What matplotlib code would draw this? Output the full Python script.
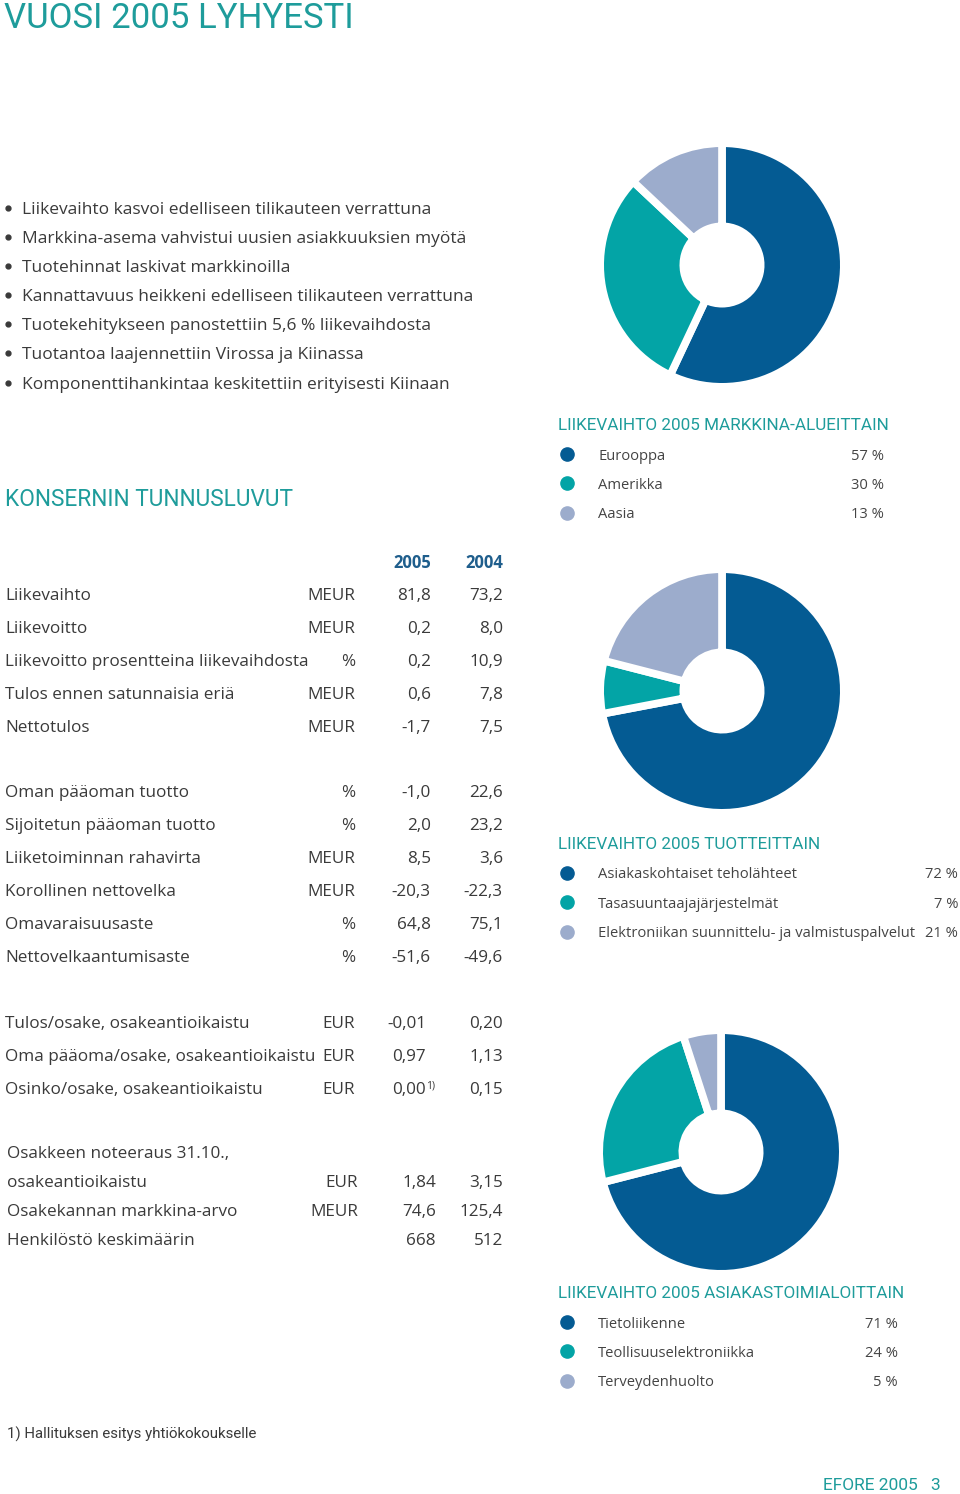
import matplotlib
matplotlib.use("Agg")
import matplotlib.pyplot as plt

plt.rcParams['font.family'] = ['Open Sans', 'DejaVu Sans']

# ---------------- data ----------------
title = "VUOSI 2005 LYHYESTI"
bullets = [
    "Liikevaihto kasvoi edelliseen tilikauteen verrattuna",
    "Markkina-asema vahvistui uusien asiakkuuksien myötä",
    "Tuotehinnat laskivat markkinoilla",
    "Kannattavuus heikkeni edelliseen tilikauteen verrattuna",
    "Tuotekehitykseen panostettiin 5,6 % liikevaihdosta",
    "Tuotantoa laajennettiin Virossa ja Kiinassa",
    "Komponenttihankintaa keskitettiin erityisesti Kiinaan",
]
table_title = "KONSERNIN TUNNUSLUVUT"
years = ["2005", "2004"]

group1_labels = ["Liikevaihto", "Liikevoitto", "Liikevoitto prosentteina liikevaihdosta",
                 "Tulos ennen satunnaisia eriä", "Nettotulos"]
group1_units = ["MEUR", "MEUR", "%", "MEUR", "MEUR"]
group1_2005 = ["81,8", "0,2", "0,2", "0,6", "-1,7"]
group1_2004 = ["73,2", "8,0", "10,9", "7,8", "7,5"]

group2_labels = ["Oman pääoman tuotto", "Sijoitetun pääoman tuotto", "Liiketoiminnan rahavirta",
                 "Korollinen nettovelka", "Omavaraisuusaste", "Nettovelkaantumisaste"]
group2_units = ["%", "%", "MEUR", "MEUR", "%", "%"]
group2_2005 = ["-1,0", "2,0", "8,5", "-20,3", "64,8", "-51,6"]
group2_2004 = ["22,6", "23,2", "3,6", "-22,3", "75,1", "-49,6"]

group3_labels = ["Tulos/osake, osakeantioikaistu", "Oma pääoma/osake, osakeantioikaistu",
                 "Osinko/osake, osakeantioikaistu"]
group3_units = ["EUR", "EUR", "EUR"]
group3_2005 = ["-0,01", "0,97", "0,00"]
group3_2004 = ["0,20", "1,13", "0,15"]

group4_labels = ["osakeantioikaistu", "Osakekannan markkina-arvo", "Henkilöstö keskimäärin"]
group4_units = ["EUR", "MEUR", ""]
group4_2005 = ["1,84", "74,6", "668"]
group4_2004 = ["3,15", "125,4", "512"]

market_title = "LIIKEVAIHTO 2005 MARKKINA-ALUEITTAIN"
market_names = ["Eurooppa", "Amerikka", "Aasia"]
market_values = [57, 30, 13]

product_title = "LIIKEVAIHTO 2005 TUOTTEITTAIN"
product_names = ["Asiakaskohtaiset teholähteet", "Tasasuuntaajajärjestelmät",
                 "Elektroniikan suunnittelu- ja valmistuspalvelut"]
product_values = [72, 7, 21]

customer_title = "LIIKEVAIHTO 2005 ASIAKASTOIMIALOITTAIN"
customer_names = ["Tietoliikenne", "Teollisuuselektroniikka", "Terveydenhuolto"]
customer_values = [71, 24, 5]

footnote = "1) Hallituksen esitys yhtiökokoukselle"
footer = "EFORE 2005"
page_no = "3"

# ---------------- style ----------------
W, H = 960, 1494
DARK = "#045b93"
TEAL = "#03a4a6"
LIGHT = "#9caccc"
TITLE_C = "#1e9c9b"
TXT = "#3a3a3a"
colors = [DARK, TEAL, LIGHT]

fig = plt.figure(figsize=(W / 100, H / 100), dpi=100)
ax = fig.add_axes([0, 0, 1, 1])
ax.set_xlim(0, W)
ax.set_ylim(H, 0)
ax.axis("off")

def t(x, y, s, size=11.5, color=TXT, ha="left", weight="normal", family=None, **kw):
    if family is not None:
        kw["family"] = family
    ax.text(x, y, s, fontsize=size, color=color, ha=ha, va="center_baseline",
            fontweight=weight, **kw)

ROB = ['Roboto', 'DejaVu Sans']
BODY = 12.3

# title
t(4, 15, title, size=25, color=TITLE_C, family=ROB)

# bullets
by = [208, 237, 266, 295, 324, 353, 383]
for y, b in zip(by, bullets):
    ax.plot(8, y, "o", color=TXT, ms=3.5)
    t(22, y, b, size=12.5)

t(5, 497, table_title, size=16.3, color=TITLE_C, family=ROB)

# table headers
t(431, 561, years[0], size=12, color="#1f5e8c", ha="right", weight="bold")
t(503, 561, years[1], size=12, color="#1f5e8c", ha="right", weight="bold")

def rows(ys, labels, units, v5, v4, xl=5, xu=355, x5=431, x4=503):
    for y, l, u, a, b in zip(ys, labels, units, v5, v4):
        t(xl, y, l, size=BODY)
        t(xu, y, u, size=BODY, ha="right")
        t(x5, y, a, size=BODY, ha="right")
        t(x4, y, b, size=BODY, ha="right")

rows([594, 627, 660, 693, 726], group1_labels, group1_units, group1_2005, group1_2004)
rows([791, 824, 857, 890, 923, 956], group2_labels, group2_units, group2_2005, group2_2004)
rows([1022, 1055, 1088], group3_labels, group3_units, group3_2005, group3_2004, x5=426)
t(426, 1084, "1)", size=7.5)
t(7, 1152, "Osakkeen noteeraus 31.10.,", size=BODY)
rows([1181, 1210, 1239], group4_labels, group4_units, group4_2005, group4_2004,
     xl=7, xu=358, x5=436)

# legends
def legend(y0, ttl, names, vals, xp):
    t(558, y0, ttl, size=12.3, color=TITLE_C, family=ROB)
    for i, (n, v) in enumerate(zip(names, vals)):
        y = y0 + 30 + i * 29.3
        ax.plot(567, y, "o", color=colors[i], ms=9.5)
        t(598, y, n, size=10.6, color="#444444")
        t(xp, y, f"{v} %", size=10.6, color="#444444", ha="right")

legend(424, market_title, market_names, market_values, 884)
legend(843, product_title, product_names, product_values, 958)
legend(1292, customer_title, customer_names, customer_values, 898)

t(7, 1433, footnote, size=10.8, family=ROB)
t(918, 1484, footer, size=12.5, color=TITLE_C, ha="right", family=ROB)
t(940, 1484, page_no, size=12.5, color=TITLE_C, ha="right", family=ROB)

# donuts
def donut(cx, cy, vals, r=118, hole=42.5, lw=5.5):
    pad = lw / 72 * 100 / 2
    R = r + pad
    a = fig.add_axes([(cx - R) / W, 1 - (cy + R) / H, 2 * R / W, 2 * R / H])
    inner = (hole - pad) / R
    a.pie(vals, colors=colors, startangle=90, counterclock=False, radius=1,
          wedgeprops=dict(width=1 - inner, edgecolor="white", linewidth=lw))
    a.set_xlim(-1, 1)
    a.set_ylim(-1, 1)
    a.set_aspect("equal")
    a.axis("off")

donut(722, 265, market_values)
donut(722, 691, product_values)
donut(721, 1152, customer_values)

fig.savefig("out.png", dpi=100)
